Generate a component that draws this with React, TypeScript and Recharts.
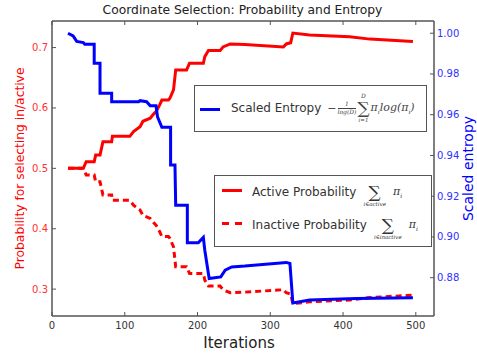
import { Label, Line, LineChart, XAxis, YAxis } from "recharts";

// iterations where the probability curves change
const probIter = [22, 43, 47, 58, 60, 66, 68, 70, 82, 83, 107, 112, 121, 125, 135, 139, 143, 148, 151, 160, 162, 167, 170, 185, 189, 208, 210, 215, 231, 235, 245, 265, 318, 322, 328, 331, 354, 409, 437, 496];
const activeProb = [0.5, 0.5, 0.511, 0.511, 0.522, 0.522, 0.533, 0.544, 0.544, 0.553, 0.553, 0.561, 0.569, 0.578, 0.583, 0.589, 0.594, 0.605, 0.613, 0.613, 0.616, 0.63, 0.663, 0.663, 0.674, 0.674, 0.685, 0.695, 0.695, 0.701, 0.706, 0.705, 0.701, 0.706, 0.708, 0.724, 0.721, 0.718, 0.714, 0.71];
const inactiveProb = [0.5, 0.5, 0.489, 0.489, 0.478, 0.478, 0.467, 0.456, 0.456, 0.447, 0.447, 0.439, 0.431, 0.422, 0.417, 0.411, 0.406, 0.395, 0.387, 0.387, 0.384, 0.37, 0.337, 0.337, 0.326, 0.326, 0.315, 0.305, 0.305, 0.299, 0.294, 0.295, 0.299, 0.294, 0.292, 0.276, 0.279, 0.282, 0.286, 0.29];

const entropyIter = [22, 29, 34, 43, 45, 58, 58, 66, 66, 82, 82, 119, 121, 130, 135, 143, 145, 151, 163, 163, 169, 170, 186, 186, 201, 208, 210, 216, 232, 238, 247, 265, 322, 327, 331, 354, 418, 496];
const entropyVals = [1.0, 0.9987, 0.996, 0.9954, 0.9946, 0.9946, 0.9853, 0.9853, 0.9705, 0.9705, 0.9664, 0.9664, 0.9669, 0.9664, 0.9644, 0.9644, 0.959, 0.9538, 0.9538, 0.9353, 0.9353, 0.9156, 0.9156, 0.8971, 0.8971, 0.8998, 0.8935, 0.8796, 0.8804, 0.8837, 0.8853, 0.8857, 0.8875, 0.887, 0.8676, 0.869, 0.8698, 0.8701];

const xTicks = [0, 100, 200, 300, 400, 500];
const probTicks = [0.3, 0.4, 0.5, 0.6, 0.7];
const entropyTicks = [0.88, 0.9, 0.92, 0.94, 0.96, 0.98, 1.0];

const activeData = probIter.map((x, i) => ({ x, y: activeProb[i] }));
const inactiveData = probIter.map((x, i) => ({ x, y: inactiveProb[i] }));
const entropyData = entropyIter.map((x, i) => ({ x, y: entropyVals[i] }));

const sans = "'DejaVu Sans', sans-serif";
const serif = "'DejaVu Serif', 'Liberation Serif', serif";
const frame = "#555";
const RED = "#ff0000";
const BLUE = "#0000ff";

const BottomTick = ({ x, y, payload }: any) => (
  <g>
    <line x1={x} y1={y} x2={x} y2={y - 4} stroke={frame} />
    <text x={x} y={y + 13} textAnchor="middle" fontSize={10} fontFamily={sans} fill="#333">
      {payload.value}
    </text>
  </g>
);

const TopTick = ({ x, y }: any) => <line x1={x} y1={y} x2={x} y2={y + 4} stroke={frame} />;

const LeftTick = ({ x, y, payload }: any) => (
  <g>
    <line x1={x} y1={y} x2={x + 4} y2={y} stroke={frame} />
    <text x={x - 4} y={y + 3.5} textAnchor="end" fontSize={10} fontFamily={sans} fill="#ff3030">
      {payload.value.toFixed(1)}
    </text>
  </g>
);

const RightTick = ({ x, y, payload }: any) => (
  <g>
    <line x1={x} y1={y} x2={x - 4} y2={y} stroke={frame} />
    <text x={x + 3} y={y + 3.5} textAnchor="start" fontSize={10} fontFamily={sans} fill="#3030ff">
      {payload.value.toFixed(2)}
    </text>
  </g>
);

const YTitle = ({ viewBox, text, left, color, size }: any) => {
  const cx = viewBox.x + left;
  const cy = viewBox.y + viewBox.height / 2;
  return (
    <text x={cx} y={cy} transform={`rotate(-90 ${cx} ${cy})`} textAnchor="middle" dominantBaseline="central" fontSize={size} fontFamily={sans} fill={color}>
      {text}
    </text>
  );
};

const XTitle = ({ viewBox }: any) => (
  <text x={viewBox.x + viewBox.width / 2 - 4} y={viewBox.y + 27} textAnchor="middle" dominantBaseline="central" fontSize={15} fontFamily={sans} fill="#222">
    Iterations
  </text>
);

const Sum = ({ above, below }: { above?: string; below: string }) => (
  <span style={{ display: "inline-flex", flexDirection: "column", alignItems: "center", lineHeight: 1, margin: "0 1px" }}>
    <span style={{ fontSize: 6, fontStyle: "italic", fontFamily: serif, height: 8 }}>{above ?? ""}</span>
    <span style={{ fontSize: 17, fontFamily: serif, lineHeight: 0.85 }}>∑</span>
    <span style={{ fontSize: 5.5, fontStyle: "italic", fontFamily: serif, marginTop: 3 }}>{below}</span>
  </span>
);

const Pi = () => (
  <span style={{ fontFamily: serif, fontStyle: "italic", fontSize: 11 }}>
    π<sub style={{ fontSize: 6 }}>i</sub>
  </span>
);

const rowStyle: React.CSSProperties = {
  position: "absolute",
  display: "flex",
  alignItems: "center",
  gap: 6,
  fontFamily: sans,
  fontSize: 12,
  color: "#333",
  whiteSpace: "nowrap",
};

export default function App() {
  return (
    <div style={{ position: "absolute", left: 0, top: 0, width: 477, height: 353, background: "#fff" }}>
      <div style={{ position: "absolute", left: 0, top: 3, width: 485, textAlign: "center", fontFamily: sans, fontSize: 12.3, color: "#222" }}>
        Coordinate Selection: Probability and Entropy
      </div>
      <LineChart width={477} height={353} margin={{ top: 20, right: 0, bottom: 0, left: 0 }}>
        <XAxis xAxisId="top" orientation="top" type="number" dataKey="x" domain={[0, 525]} ticks={xTicks} height={1} tickLine={false} tickSize={0} tickMargin={0} axisLine={{ stroke: frame, strokeWidth: 1.5 }} tick={<TopTick />} allowDataOverflow />
        <XAxis xAxisId="bottom" type="number" dataKey="x" domain={[0, 525]} ticks={xTicks} height={37} tickLine={false} tickSize={0} tickMargin={0} axisLine={{ stroke: frame, strokeWidth: 1.5 }} tick={<BottomTick />} allowDataOverflow>
          <Label content={<XTitle />} />
        </XAxis>
        <YAxis yAxisId="left" type="number" domain={[0.2555, 0.744]} ticks={probTicks} width={52} tickLine={false} tickSize={0} tickMargin={0} axisLine={{ stroke: frame, strokeWidth: 1.5 }} tick={<LeftTick />} allowDataOverflow>
          <Label content={<YTitle text="Probability for selecting in/active" left={20} color={RED} size={12.3} />} />
        </YAxis>
        <YAxis yAxisId="right" orientation="right" type="number" domain={[0.8612, 1.006]} ticks={entropyTicks} width={43} tickLine={false} tickSize={0} tickMargin={0} axisLine={{ stroke: frame, strokeWidth: 1.5 }} tick={<RightTick />} allowDataOverflow>
          <Label content={<YTitle text="Scaled entropy" left={34} color={BLUE} size={14} />} />
        </YAxis>
        <Line xAxisId="bottom" yAxisId="left" data={activeData} dataKey="y" stroke={RED} strokeWidth={3} dot={false} isAnimationActive={false} />
        <Line xAxisId="bottom" yAxisId="left" data={inactiveData} dataKey="y" stroke={RED} strokeWidth={3} strokeDasharray="6 4" dot={false} isAnimationActive={false} />
        <Line xAxisId="top" yAxisId="right" data={entropyData} dataKey="y" stroke={BLUE} strokeWidth={3} dot={false} isAnimationActive={false} />
      </LineChart>

      {/* entropy legend */}
      <div style={{ position: "absolute", left: 194, top: 85, width: 233, height: 47, boxSizing: "border-box", border: `1.5px solid ${frame}`, background: "#fff" }}>
        <div style={{ position: "absolute", left: 5, top: 22, width: 20, height: 3, background: BLUE }} />
        <div style={{ ...rowStyle, left: 36, top: 0, height: 44 }}>
          <span>Scaled Entropy</span>
          <span style={{ display: "inline-flex", alignItems: "center", fontFamily: serif, fontStyle: "italic", fontSize: 11, color: "#444" }}>
            <span style={{ fontStyle: "normal", marginRight: 1 }}>−</span>
            <span style={{ display: "inline-flex", flexDirection: "column", alignItems: "center", fontSize: 6, lineHeight: 1.1 }}>
              <span>1</span>
              <span style={{ borderTop: "0.7px solid #444" }}>log(D)</span>
            </span>
            <Sum above="D" below="i=1" />
            <Pi />
            <span>log(π<sub style={{ fontSize: 6 }}>i</sub>)</span>
          </span>
        </div>
      </div>

      {/* probability legend */}
      <div style={{ position: "absolute", left: 214, top: 175, width: 218, height: 72, boxSizing: "border-box", border: `1.5px solid ${frame}`, background: "#fff" }}>
        <div style={{ position: "absolute", left: 6.5, top: 13, width: 20, height: 3, background: RED }} />
        <div style={{ position: "absolute", left: 6.5, top: 46, width: 7, height: 3, background: RED }} />
        <div style={{ position: "absolute", left: 19.5, top: 46, width: 7, height: 3, background: RED }} />
        <div style={{ ...rowStyle, left: 37, top: 0, height: 32 }}>
          <span>Active Probability</span>
          <Sum below="i∈active" />
          <Pi />
        </div>
        <div style={{ ...rowStyle, left: 37, top: 33, height: 32 }}>
          <span>Inactive Probability</span>
          <Sum below="i∈inactive" />
          <Pi />
        </div>
      </div>
    </div>
  );
}
